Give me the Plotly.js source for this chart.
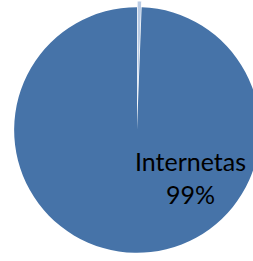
<!DOCTYPE html>
<html><head><meta charset="utf-8">
<script src="https://cdn.plot.ly/plotly-3.0.1.min.js"></script>
<style>html,body{margin:0;padding:0;overflow:hidden;background:#fff}#c{width:266px;height:261px}</style>
</head><body><div id="c"></div>
<script>
const labels = ["Kita", "Internetas"];
const values = [0.6, 99.4];
const colors = ["#b9cbe4", "#4673a8"];
const total = values.reduce((a,b)=>a+b,0);
const mainPct = Math.round(values[1]/total*100);
Plotly.newPlot('c', [{
  type:'pie', labels:labels, values:values, sort:false, direction:'clockwise', rotation:0,
  marker:{colors:colors, line:{color:'#ffffff', width:[1,0]}},
  pull:[0.05,0], textinfo:'none', hoverinfo:'none', showlegend:false
}], {
  width:266, height:261, margin:{l:8,r:0,t:1,b:2,pad:0}, showlegend:false,
  paper_bgcolor:'#fff',
  annotations:[{xref:'paper', yref:'paper', x:0.709, y:0.314, xanchor:'center', yanchor:'middle', showarrow:false,
    text: labels[1] + '<br>' + mainPct + '%', font:{family:'Lato', size:25, color:'#000'}}]
}, {staticPlot:true});
</script></body></html>
